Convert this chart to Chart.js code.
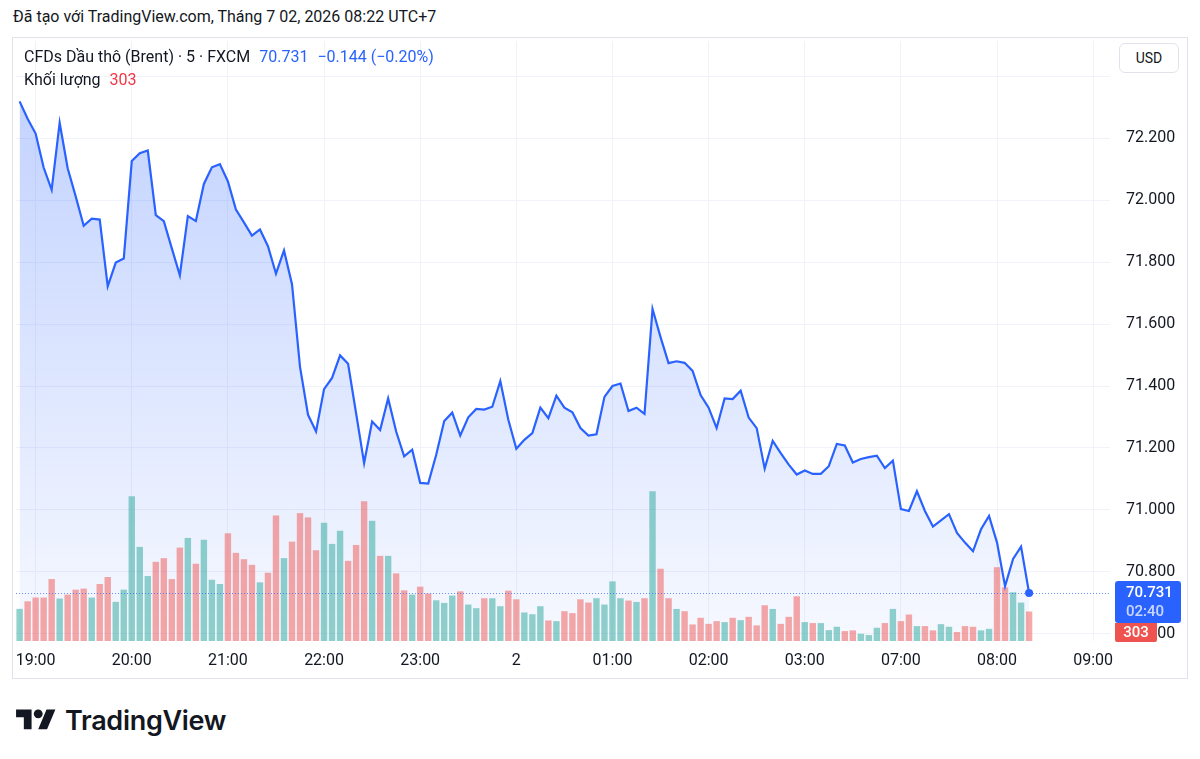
<!DOCTYPE html>
<html>
<head>
<meta charset="utf-8">
<script src="https://cdn.jsdelivr.net/npm/chart.js@4.4.1/dist/chart.umd.min.js"></script>
<style>
  body { margin: 0; background: #fff; width: 1200px; height: 759px; position: relative; overflow: hidden;
         font-family: Roboto, "Noto Sans", sans-serif; color: #131722; }
  #title { position: absolute; left: 13px; top: 7px; font-size: 16px; white-space: nowrap; }
  #frame { position: absolute; left: 12px; top: 37px; width: 1174px; height: 640px; border: 1px solid #e0e3eb; }
  #wrap { position: absolute; left: 12px; top: 37px; width: 1176px; height: 641px; }
  #legend { position: absolute; left: 24px; top: 45px; font-size: 16px; line-height: 23px; white-space: nowrap; }
  #legend .blue { color: #2962ff; margin-left: 9px; }
  #legend .red { color: #f23645; margin-left: 9px; }
  #usd { position: absolute; left: 1119px; top: 43px; width: 60px; height: 30px; border: 1px solid #e0e3eb;
         border-radius: 6px; box-sizing: border-box; font-size: 14px; line-height: 28px; text-align: center; background: #fff; }
  #logo { position: absolute; left: 16px; top: 704px; display: flex; align-items: center; }
  #logo span { font-family: Inter, Roboto, sans-serif; font-weight: 600; font-size: 27px; margin-left: 9px; letter-spacing: -0.3px; }
</style>
</head>
<body>
<div id="title">Đã tạo với TradingView.com, Tháng 7 02, 2026 08:22 UTC+7</div>
<div id="frame"></div>
<div id="wrap"><canvas id="c" width="1176" height="641"></canvas></div>
<div id="legend">
  <div>CFDs Dầu thô (Brent) · 5 · FXCM<span class="blue" id="lastTxt"></span><span class="blue" id="chgTxt"></span></div>
  <div>Khối lượng<span class="red" id="volTxt"></span></div>
</div>
<div id="usd">USD</div>
<div id="logo">
  <svg width="40" height="31" viewBox="0 0 36 28"><path fill="#131722" d="M14 22H7V11H0V4h14v18zM28 22h-8l7.5-18h8L28 22z"/><circle fill="#131722" cx="20" cy="8" r="4"/></svg>
  <span>TradingView</span>
</div>
<script>
// 5-minute closes, 18:50 -> 08:20 (market break between 03:00 and 07:00 skipped)
const price = [
  72.320, 72.264, 72.216, 72.106, 72.034, 72.251, 72.104, 72.013, 71.918, 71.941,
  71.938, 71.722, 71.799, 71.812, 72.127, 72.152, 72.161, 71.952, 71.933, 71.845,
  71.758, 71.949, 71.933, 72.053, 72.107, 72.117, 72.061, 71.970, 71.929, 71.886,
  71.906, 71.852, 71.763, 71.838, 71.729, 71.462, 71.307, 71.253, 71.390, 71.426,
  71.499, 71.472, 71.312, 71.151, 71.285, 71.258, 71.360, 71.253, 71.173, 71.194,
  71.087, 71.085, 71.178, 71.287, 71.314, 71.240, 71.299, 71.326, 71.324, 71.333,
  71.416, 71.291, 71.197, 71.226, 71.248, 71.330, 71.296, 71.369, 71.330, 71.315,
  71.264, 71.240, 71.244, 71.365, 71.400, 71.408, 71.319, 71.330, 71.310, 71.649,
  71.558, 71.474, 71.480, 71.475, 71.449, 71.371, 71.330, 71.264, 71.360, 71.358,
  71.385, 71.298, 71.264, 71.133, 71.223, 71.183, 71.146, 71.114, 71.127, 71.116,
  71.116, 71.141, 71.213, 71.208, 71.153, 71.164, 71.170, 71.175, 71.135, 71.159,
  71.002, 70.996, 71.060, 70.996, 70.946, 70.966, 70.986, 70.925, 70.894, 70.866,
  70.937, 70.980, 70.894, 70.753, 70.841, 70.881, 70.731
];
const volume = [
  330, 408, 446, 446, 636, 436, 476, 527, 538, 446,
  585, 657, 402, 527, 1486, 966, 667, 813, 851, 636,
  959, 1058, 793, 1040, 629, 585, 1106, 905, 840, 782,
  602, 701, 1289, 851, 1020, 1313, 1269, 932, 1214, 997,
  1132, 823, 986, 1435, 1234, 874, 874, 694, 520, 476,
  558, 487, 418, 391, 466, 510, 374, 337, 439, 439,
  357, 517, 428, 293, 275, 357, 211, 204, 306, 286,
  428, 395, 439, 374, 612, 439, 415, 401, 439, 1537,
  742, 439, 329, 306, 170, 238, 176, 204, 194, 238,
  214, 248, 160, 367, 329, 176, 248, 459, 194, 184,
  184, 112, 146, 102, 109, 74, 61, 136, 184, 329,
  204, 272, 153, 153, 109, 173, 146, 92, 153, 146,
  109, 125, 758, 551, 500, 395, 303
];
const timeTickIdx = [2, 14, 26, 38, 50, 62, 74, 86, 98, 110, 122, 134];
const timeTickLabels = ['19:00', '20:00', '21:00', '22:00', '23:00', '2', '01:00', '02:00', '03:00', '07:00', '08:00', '09:00'];
const priceTicks = [70.6, 70.8, 71.0, 71.2, 71.4, 71.6, 71.8, 72.0, 72.2, 72.4];
const priceTickLabels = ['70.600', '70.800', '71.000', '71.200', '71.400', '71.600', '71.800', '72.000', '72.200', ''];
const changeText = '−0.144 (−0.20%)';
const countdown = '02:40';

const last = price[price.length - 1];
const lastVol = volume[volume.length - 1];
document.getElementById('lastTxt').textContent = last.toFixed(3);
document.getElementById('chgTxt').textContent = changeText;
document.getElementById('volTxt').textContent = lastVol;

const UP = 'rgba(38, 166, 154, 0.5)';
const DOWN = 'rgba(239, 83, 80, 0.5)';
const volColors = volume.map((v, i) => (i === 0 || price[i] >= price[i - 1]) ? UP : DOWN);

const noPad = axis => {
  axis.paddingTop = 0;
  axis.paddingBottom = 0;
  axis.paddingLeft = 0;
  axis.paddingRight = 0;
};

const overlay = {
  id: 'overlay',
  afterDatasetsDraw: chart => {
    const ctx = chart.ctx;
    const area = chart.chartArea;
    const y = Math.round(chart.scales.y.getPixelForValue(last)) + 0.5;
    ctx.save();
    ctx.strokeStyle = 'rgba(41, 98, 255, 0.7)';
    ctx.lineWidth = 1;
    ctx.setLineDash([1, 2]);
    ctx.beginPath();
    ctx.moveTo(area.left, y);
    ctx.lineTo(area.right, y);
    ctx.stroke();
    ctx.restore();
  },
  afterDraw: chart => {
    const ctx = chart.ctx;
    const y = chart.scales.y.getPixelForValue(last);
    const x0 = chart.chartArea.right + 5;
    ctx.save();
    ctx.fillStyle = '#2962ff';
    ctx.beginPath();
    ctx.roundRect(x0, y - 12, 66, 42, 3);
    ctx.fill();
    ctx.fillStyle = '#ef5350';
    ctx.beginPath();
    ctx.roundRect(x0, y + 30, 42, 19, [0, 0, 2, 2]);
    ctx.fill();
    ctx.textAlign = 'left';
    ctx.textBaseline = 'middle';
    ctx.font = '500 15px Roboto';
    ctx.fillStyle = '#fff';
    ctx.fillText(last.toFixed(3), x0 + 11, y);
    ctx.fillStyle = 'rgba(255,255,255,0.75)';
    ctx.fillText(countdown, x0 + 11, y + 19);
    ctx.fillStyle = '#fff';
    ctx.textAlign = 'center';
    ctx.fillText(String(lastVol), x0 + 21, y + 40);
    ctx.restore();
  }
};

new Chart(document.getElementById('c'), {
  type: 'bar',
  plugins: [overlay],
  data: {
    datasets: [{
      type: 'line',
      label: 'price',
      data: price.map((v, i) => ({ x: i, y: v })),
      yAxisID: 'y',
      order: 1,
      borderColor: '#2962ff',
      borderWidth: 2.2,
      tension: 0,
      fill: 'start',
      backgroundColor: c => {
        const chart = c.chart;
        if (!chart.chartArea) return 'rgba(41, 98, 255, 0.15)';
        const top = chart.scales.y.getPixelForValue(Math.max(...price));
        const g = chart.ctx.createLinearGradient(0, top, 0, chart.chartArea.bottom);
        g.addColorStop(0, 'rgba(41, 98, 255, 0.28)');
        g.addColorStop(1, 'rgba(41, 98, 255, 0.04)');
        return g;
      },
      pointRadius: c => c.dataIndex === price.length - 1 ? 4 : 0,
      pointBackgroundColor: '#2962ff',
      pointBorderWidth: 0
    }, {
      label: 'volume',
      data: volume.map((v, i) => ({ x: i, y: v })),
      yAxisID: 'yv',
      order: 2,
      backgroundColor: volColors,
      borderWidth: 0,
      barPercentage: 0.8,
      categoryPercentage: 1
    }]
  },
  options: {
    responsive: false,
    animation: false,
    layout: { padding: 0 },
    plugins: {
      legend: { display: false },
      tooltip: { enabled: false },
      filler: { drawTime: 'beforeDatasetsDraw' }
    },
    scales: {
      x: {
        type: 'linear',
        offset: false,
        min: -0.45,
        max: 136.1,
        grid: { color: '#f0f3fa', drawTicks: false, tickLength: 0, offset: false },
        border: { display: false },
        afterBuildTicks: axis => { axis.ticks = timeTickIdx.map(v => ({ value: v })); },
        afterFit: axis => { axis.height = 37; noPad(axis); },
        ticks: {
          autoSkip: false,
          maxRotation: 0,
          padding: 10,
          color: '#131722',
          font: { family: 'Roboto', size: 16 },
          callback: v => timeTickLabels[timeTickIdx.indexOf(v)]
        }
      },
      y: {
        position: 'right',
        min: 70.576,
        max: 72.515,
        grid: { color: '#f0f3fa', drawTicks: false, tickLength: 0 },
        border: { display: false },
        afterBuildTicks: axis => { axis.ticks = priceTicks.map(v => ({ value: v })); },
        afterFit: axis => { axis.width = 78; noPad(axis); },
        ticks: {
          padding: 16,
          color: '#131722',
          font: { family: 'Roboto', size: 16 },
          callback: v => priceTickLabels[priceTicks.findIndex(t => Math.abs(t - v) < 1e-6)]
        }
      },
      yv: {
        display: false,
        min: 0,
        max: 6160
      }
    }
  }
});
</script>
</body>
</html>
